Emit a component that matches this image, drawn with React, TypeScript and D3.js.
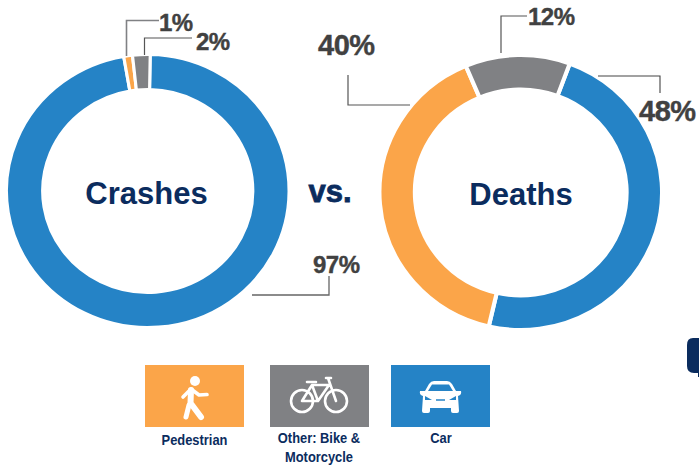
import React from "react";
import * as d3 from "d3";

const categories = ["Car", "Pedestrian", "Other"];
const crashes = [97, 1, 2];
const deaths = [48, 40, 12];
const colors = ["#2583c6", "#fba549", "#808184"];
const NAVY = "#0b2c5e";
const LABEL = "#414141";
const FONT = "'Liberation Sans', Arial, sans-serif";
const color = d3.scaleOrdinal<string, string>().domain(categories).range(colors);

function Donut({ values, cx, cy, rx, ry, ir, start, sw }: any) {
  const pie = d3.pie<number>().sort(null).startAngle(start).endAngle(start + Math.PI * 2);
  const arc = d3.arc<d3.PieArcDatum<number>>().outerRadius(ry + sw / 2).innerRadius(ir - sw / 2);
  return (
    <g transform={`translate(${cx},${cy}) scale(${rx / ry},1)`}>
      {pie(values).map((d, i) => (
        <path key={i} d={arc(d) || ""} fill={color(categories[i])} stroke="#fff" strokeWidth={sw} />
      ))}
    </g>
  );
}

const leaders = [
  { d: "M126.5 56V20.5H159", s: "#808184", w: 1.6 },
  { d: "M144.5 55V38H192", s: "#555", w: 1.2 },
  { d: "M252 295H329V276", s: "#666", w: 1.3 },
  { d: "M348 75V105H410", s: "#555", w: 1.2 },
  { d: "M501 53V16H527", s: "#555", w: 1.2 },
  { d: "M598 76H660V93", s: "#444", w: 1.1 },
];
const pctLabels = [
  { t: "1%", x: 159, y: 31, s: 24 },
  { t: "2%", x: 196, y: 50, s: 24 },
  { t: "97%", x: 313, y: 273, s: 24 },
  { t: "40%", x: 318, y: 55, s: 29 },
  { t: "12%", x: 528, y: 25, s: 24 },
  { t: "48%", x: 639, y: 121, s: 29 },
];
const legend = [
  { x: 145, w: 99, c: colors[1], lines: ["Pedestrian"], cx: 194.5, y: 445 },
  { x: 270, w: 99, c: colors[2], lines: ["Other: Bike &", "Motorcycle"], cx: 319, y: 443 },
  { x: 391, w: 99, c: colors[0], lines: ["Car"], cx: 441, y: 443 },
];

export default function App() {
  return (
    <svg width={699} height={466} style={{ position: "fixed", left: 0, top: 0, background: "#fff" }}>
      <Donut values={crashes} cx={147.75} cy={191} rx={139.75} ry={135} ir={103} start={(1 * Math.PI) / 180} sw={3} />
      <Donut values={deaths} cx={520.75} cy={192.5} rx={139.25} ry={135.5} ir={105} start={(20.3 * Math.PI) / 180} sw={4} />
      {leaders.map((l, i) => (
        <path key={i} d={l.d} fill="none" stroke={l.s} strokeWidth={l.w} />
      ))}
      {pctLabels.map((l, i) => (
        <text key={i} x={l.x} y={l.y} fontFamily={FONT} fontWeight={700} fontSize={l.s} fill={LABEL} stroke={LABEL} strokeWidth={0.4} letterSpacing={-0.5}>{l.t}</text>
      ))}
      <text x={146.5} y={204} textAnchor="middle" fontFamily={FONT} fontWeight={700} fontSize={31} fill={NAVY}>Crashes</text>
      <text x={521} y={205} textAnchor="middle" fontFamily={FONT} fontWeight={700} fontSize={31} fill={NAVY}>Deaths</text>
      <text x={330} y={202} textAnchor="middle" fontFamily={FONT} fontWeight={700} fontSize={31} fill={NAVY} stroke={NAVY} strokeWidth={0.8}>vs.</text>

      {legend.map((l, i) => (
        <g key={i}>
          <rect x={l.x} y={365} width={l.w} height={62} fill={l.c} />
          {l.lines.map((t, j) => (
            <text key={j} transform={`translate(${l.cx},${l.y + j * 18.5}) scale(0.86,1)`} textAnchor="middle" fontFamily={FONT} fontWeight={700} fontSize={15} fill={NAVY}>{t}</text>
          ))}
        </g>
      ))}
      {/* pedestrian */}
      <g fill="none" stroke="#fff" strokeLinecap="round" strokeLinejoin="round">
        <circle cx={195} cy={381} r={5} fill="#fff" stroke="none" />
        <path d="M183 397 L191 389 L199 395 L207 394.5" strokeWidth={3.6} />
        <path d="M191 390 L190.5 403 L201 417" strokeWidth={6} />
        <path d="M189 405 L186 417" strokeWidth={5} />
      </g>
      {/* bike */}
      <g fill="none" stroke="#fff" strokeWidth={2.6} strokeLinecap="round" strokeLinejoin="round">
        <circle cx={302} cy={401} r={11} />
        <circle cx={336} cy={401} r={11} />
        <path d="M302 401 L312 385 L329 385 M312 385 L318 401 L302 401 M318 401 L329 385 M331 378 L326 378 M328 378 L336 401 M307 382 L316 382" />
      </g>
      {/* car */}
      <g fill="#fff">
        <path d="M425 391 L429 384 Q431 381 434 381 H447 Q450 381 452 384 L456 391 L461 391 Q462 395 458 396 L459 411 Q459 413 457 413 H453 Q451 413 451 411 V408 H430 V411 Q430 413 428 413 H424 Q422 413 422 411 L423 396 Q419 395 420 391 Z" />
      </g>
      <path d="M428 391 L432 384.5 H449 L453 391 Z" fill={colors[0]} />
      <path d="M425 396 L432 400 H425 Z M456 396 L449 400 H456 Z" fill={colors[0]} />
      <path d="M436 400 H445" stroke={colors[0]} strokeWidth={1.5} />

      <path d="M699 338 H693 Q687 338 687 345 V366 Q687 373 694 373 H698 V377 H699 Z" fill={NAVY} />
    </svg>
  );
}
